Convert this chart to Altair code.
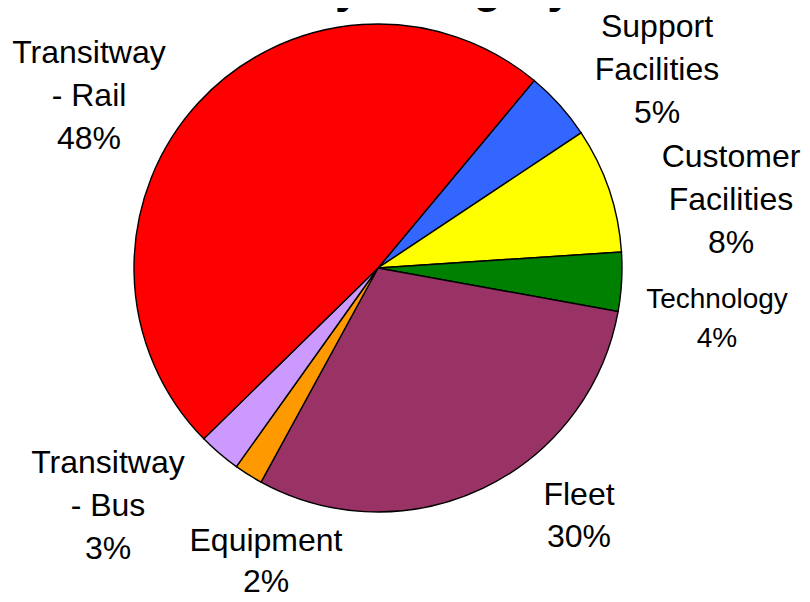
import math
import altair as alt
import pandas as pd

# ---- data ----
CATEGORIES = [
    "Support Facilities",
    "Customer Facilities",
    "Technology",
    "Fleet",
    "Equipment",
    "Transitway - Bus",
    "Transitway - Rail",
]
VALUES = [4.6, 8.3, 3.9, 30.1, 1.9, 2.8, 48.4]
COLORS = ["#3366FF", "#FFFF00", "#008000", "#993366", "#FF9900", "#CC99FF", "#FF0000"]
TITLE = "by Category"

# ---- layout (pixels inside the chart) ----
W, H = 794, 586
CX, CY, R = 370, 260, 244
START = math.radians(39.8)
LABEL_X = [649, 723, 709, 571, 258, 100, 81]
LABEL_Y = [29, 159, 300, 497, 543, 465, 55]
LABEL_SIZE = [32, 32, 28, 32, 32, 32, 32]
LABEL_LH = [43, 43, 39, 42, 41, 43, 43]

total = sum(VALUES)


def wrap(name):
    if " - " in name:
        return name.replace(" - ", "\n- ")
    return name.replace(" ", "\n")


pie_df = pd.DataFrame({"category": CATEGORIES, "value": VALUES, "idx": list(range(len(VALUES)))})

pie = alt.Chart(pie_df).mark_arc(
    outerRadius=R, stroke="black", strokeWidth=1.4
).encode(
    theta=alt.Theta("value:Q", stack=True,
                    scale=alt.Scale(range=[START, START + 2 * math.pi])),
    color=alt.Color("category:N", scale=alt.Scale(domain=CATEGORIES, range=COLORS), legend=None),
    order=alt.Order("idx:Q"),
    x=alt.value(CX),
    y=alt.value(CY),
)

layers = [pie]
for c, v, lx, ly, fs, lh in zip(CATEGORIES, VALUES, LABEL_X, LABEL_Y, LABEL_SIZE, LABEL_LH):
    df = pd.DataFrame({"label": [f"{wrap(c)}\n{round(v / total * 100)}%"]})
    layers.append(
        alt.Chart(df).mark_text(
            font="Liberation Sans", fontSize=fs, lineBreak="\n", lineHeight=lh,
            align="center", baseline="alphabetic", color="black"
        ).encode(x=alt.value(lx), y=alt.value(ly), text="label:N")
    )

title = alt.Chart(pd.DataFrame({"t": [TITLE]})).mark_text(
    font="Liberation Sans", fontWeight="bold", fontSize=46,
    align="left", baseline="alphabetic", color="black"
).encode(
    x=alt.value(299),
    y=alt.value(-6),
    text="t:N",
)
layers.append(title)

chart = alt.layer(*layers).properties(
    width=W, height=H,
    autosize=alt.AutoSizeParams(type="none"),
    padding=0,
    background="white",
).configure_view(stroke=None)

chart.save("out.html", embed_options={"renderer": "svg", "actions": False})
